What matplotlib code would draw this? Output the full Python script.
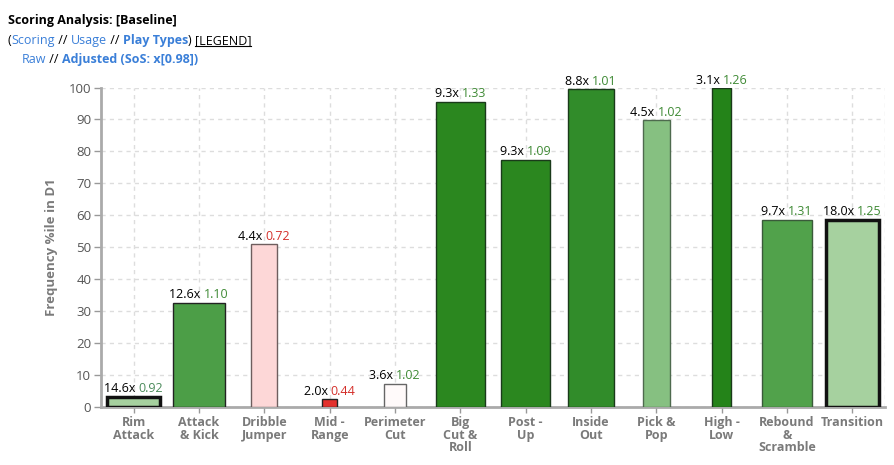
import matplotlib
matplotlib.use("Agg")
import matplotlib.pyplot as plt
from matplotlib.offsetbox import TextArea, HPacker, AnnotationBbox

plt.rcParams['font.family'] = ['Open Sans', 'DejaVu Sans']

categories = ["Rim\nAttack", "Attack\n& Kick", "Dribble\nJumper", "Mid -\nRange",
              "Perimeter\nCut", "Big\nCut &\nRoll", "Post -\nUp", "Inside\nOut",
              "Pick &\nPop", "High -\nLow", "Rebound\n&\nScramble", "Transition"]
frequency_pctile = [3.1, 32.6, 50.8, 2.3, 7.2, 95.6, 77.4, 99.4, 89.7, 99.7, 58.6, 58.6]
usage_share = [0.81, 0.80, 0.40, 0.22, 0.35, 0.75, 0.75, 0.71, 0.41, 0.30, 0.78, 0.81]
multiplier = ["14.6x", "12.6x", "4.4x", "2.0x", "3.6x", "9.3x", "9.3x", "8.8x", "4.5x", "3.1x", "9.7x", "18.0x"]
adjusted = [0.92, 1.10, 0.72, 0.44, 1.02, 1.33, 1.09, 1.01, 1.02, 1.26, 1.31, 1.25]

fill_colors = ["#a6d19f", "#4c9e47", "#fdd7d7", "#e3302c", "#fffafa", "#2b871f",
               "#2b871f", "#318c2a", "#86c081", "#248319", "#51a24b", "#a6d19f"]
edge_colors = ["#111111", "#222222", "#6e5e5e", "#222222", "#666666", "#1a3a1a",
               "#1a3a1a", "#1a3a1a", "#4e6a4e", "#1a3a1a", "#3a5a3a", "#111111"]
edge_widths = [2.5, 1.0, 1.0, 1.0, 1.0, 1.0, 1.0, 1.0, 1.0, 1.0, 1.0, 2.5]

fig = plt.figure(figsize=(8.95, 4.65), dpi=100)
ax = fig.add_axes([101 / 895, 58.5 / 465, 784 / 895, 319 / 465])

x = list(range(len(categories)))
ax.bar(x, frequency_pctile, width=usage_share, color=fill_colors,
       edgecolor=edge_colors, linewidth=edge_widths, zorder=3)

ax.set_xlim(-0.5, len(categories) - 0.5)
ax.set_ylim(0, 100)
ax.set_yticks(range(0, 101, 10))
ax.set_xticks(x)
ax.set_xticklabels(categories, fontsize=9, fontweight='bold', color='#7a7a7a',
                   linespacing=0.95)
ax.tick_params(axis='y', labelsize=9.5, colors='#555555', length=5, width=1,
               pad=2)
ax.tick_params(axis='y', color='#999999')
ax.tick_params(axis='x', length=4, width=1, color='#999999', pad=3)
ax.grid(True, linestyle=(0, (3, 3)), color='#dddddd', linewidth=1, zorder=0)
ax.axvline(len(categories) - 0.5, linestyle=(0, (3, 3)), color='#dddddd', lw=1, zorder=0)
for s in ['top', 'right']:
    ax.spines[s].set_visible(False)
ax.spines['left'].set_color('#aaaaaa')
ax.spines['left'].set_linewidth(2)
ax.spines['bottom'].set_color('#aaaaaa')
ax.spines['bottom'].set_linewidth(2)
ax.set_ylabel("Frequency %ile in D1", fontsize=9.5, fontweight='bold', color='#7a7a7a',
              labelpad=8)

for xi, h, m, a in zip(x, frequency_pctile, multiplier, adjusted):
    col = '#3f8a35' if a >= 0.9 else '#d42f2a'
    if a < 1 and a >= 0.9:
        col = '#4a8a5a'
    t1 = TextArea(m + " ", textprops=dict(color='black', fontsize=9))
    t2 = TextArea(f"{a:.2f}", textprops=dict(color=col, fontsize=9))
    box = HPacker(children=[t1, t2], align='baseline', pad=0, sep=0)
    ab = AnnotationBbox(box, (xi, h), xybox=(0, 1), xycoords='data',
                        boxcoords='offset points', box_alignment=(0.5, 0),
                        frameon=False, pad=0, annotation_clip=False, zorder=5)
    ax.add_artist(ab)

# Header text lines
fig.canvas.draw()
renderer = fig.canvas.get_renderer()
BLUE = '#3a7fd8'


def draw_line(segments, x0, y0):
    xpos = x0
    for text, color, bold, underline in segments:
        t = fig.text(xpos / 895, 1 - y0 / 465, text, color=color, fontsize=9,
                     fontweight='bold' if bold else 'normal', va='baseline', ha='left')
        bb = t.get_window_extent(renderer=renderer)
        if underline:
            fig.add_artist(plt.Line2D([bb.x0 / 895, bb.x1 / 895],
                                      [(465 - y0 - 2) / 465, (465 - y0 - 2) / 465],
                                      color=color, lw=0.8, transform=fig.transFigure))
        xpos += bb.width


draw_line([("Scoring Analysis: [Baseline]", 'black', True, False)], 8, 24)
draw_line([("(", 'black', False, False), ("Scoring", BLUE, False, False),
           (" // ", 'black', False, False), ("Usage", BLUE, False, False),
           (" // ", 'black', False, False), ("Play Types", BLUE, True, False),
           (") ", 'black', False, False), ("[LEGEND]", 'black', False, True)], 8, 44)
draw_line([("Raw", BLUE, False, False), (" // ", 'black', False, False),
           ("Adjusted (SoS: x[0.98])", BLUE, True, False)], 22, 63)

fig.savefig("out.png", dpi=100)
